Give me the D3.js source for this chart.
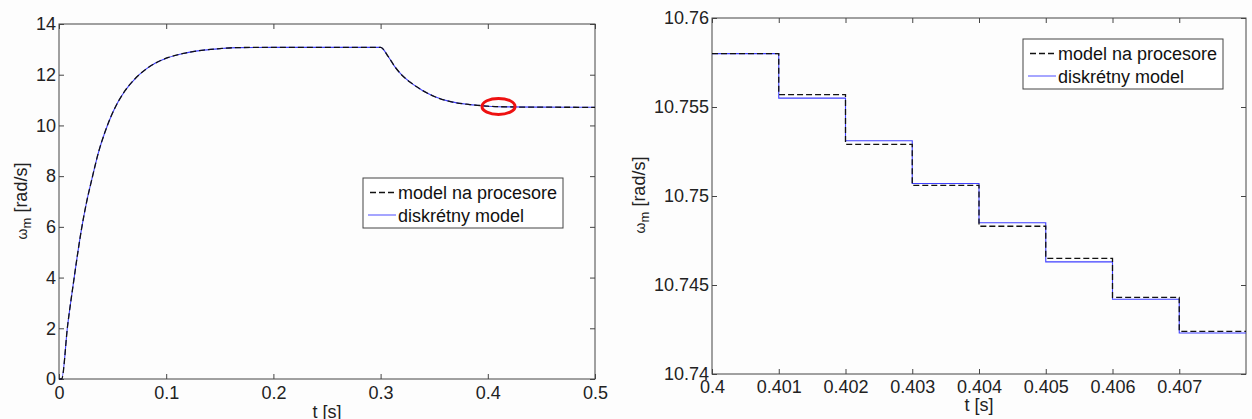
<!DOCTYPE html>
<html><head><meta charset="utf-8">
<script src="https://cdn.jsdelivr.net/npm/d3@7"></script>
<style>
html,body{margin:0;padding:0;background:#fdfdfd;}
svg{display:block;font-family:Arial,"Liberation Sans",sans-serif;}
</style></head>
<body>
<svg id="c" width="1252" height="419"></svg>
<script>
// ---------- data ----------
// Left chart: full response (t in s, omega_m in rad/s)
const leftT = [0, 0.0025, 0.0081, 0.0134, 0.0165, 0.0211, 0.0258, 0.0305, 0.0367, 0.0429, 0.0491, 0.0554, 0.0616, 0.0709, 0.0802, 0.0896, 0.102, 0.116, 0.135, 0.15, 0.166, 0.2, 0.25, 0.3, 0.3072, 0.3134, 0.3197, 0.329, 0.3383, 0.3507, 0.3663, 0.3818, 0.3943, 0.4, 0.42, 0.45, 0.5];
const leftProc = [0, 0, 2.13, 3.77, 4.69, 5.94, 6.99, 7.85, 8.92, 9.74, 10.41, 10.95, 11.37, 11.84, 12.19, 12.45, 12.68, 12.84, 12.97, 13.03, 13.07, 13.08, 13.08, 13.08, 12.71, 12.31, 11.99, 11.66, 11.40, 11.13, 10.93, 10.83, 10.78, 10.758, 10.73, 10.72, 10.715];
const leftDisc = [0, 0, 2.13, 3.77, 4.69, 5.94, 6.99, 7.85, 8.92, 9.74, 10.41, 10.95, 11.37, 11.84, 12.19, 12.45, 12.68, 12.84, 12.97, 13.03, 13.07, 13.08, 13.08, 13.08, 12.71, 12.31, 11.99, 11.66, 11.40, 11.13, 10.93, 10.83, 10.78, 10.758, 10.73, 10.72, 10.715];
const leftXTicks = [0, 0.1, 0.2, 0.3, 0.4, 0.5];
const leftXTickLabels = ["0", "0.1", "0.2", "0.3", "0.4", "0.5"];
const leftYTicks = [0, 2, 4, 6, 8, 10, 12, 14];
const leftYTickLabels = ["0", "2", "4", "6", "8", "10", "12", "14"];
const markT = 0.41, markV = 10.75;

// Right chart: zoomed step response
const rightT = [0.400, 0.401, 0.402, 0.403, 0.404, 0.405, 0.406, 0.407, 0.408];
const rightProc = [10.7580, 10.7557, 10.7529, 10.7506, 10.7483, 10.7465, 10.7443, 10.7424, 10.7424];
const rightDisc = [10.7580, 10.7555, 10.7531, 10.7507, 10.7485, 10.7463, 10.7442, 10.7423, 10.7423];
const rightXTicks = [0.400, 0.401, 0.402, 0.403, 0.404, 0.405, 0.406, 0.407];
const rightXTickLabels = ["0.4", "0.401", "0.402", "0.403", "0.404", "0.405", "0.406", "0.407"];
const rightYTicks = [10.74, 10.745, 10.75, 10.755, 10.76];
const rightYTickLabels = ["10.74", "10.745", "10.75", "10.755", "10.76"];

const seriesNames = ["model na procesore", "diskrétny model"];

// ---------- drawing ----------
const svg = d3.select("#c");
const AX = "#444", BLUE = "#3f3fff", FS = 18;

function panel(o) {
  const g = svg.append("g");
  const x = d3.scaleLinear().domain(o.xd).range([o.left, o.right]);
  const y = d3.scaleLinear().domain(o.yd).range([o.bottom, o.top]);
  const fmtX = d => o.xl[o.xt.indexOf(d)];
  const fmtY = d => o.yl[o.yt.indexOf(d)];

  const styleAxis = sel => {
    sel.select(".domain").remove();
    sel.selectAll(".tick line").attr("stroke", AX);
    sel.selectAll("text").attr("fill", "#222").style("font-size", FS + "px").style("font-family", "Arial, 'Liberation Sans', sans-serif");
  };
  g.append("g").attr("transform", `translate(0,${o.bottom})`)
    .call(d3.axisBottom(x).tickValues(o.xt).tickFormat(fmtX).tickSizeInner(-5).tickSizeOuter(0).tickPadding(o.xpad)).call(styleAxis);
  g.append("g").attr("transform", `translate(0,${o.top})`)
    .call(d3.axisTop(x).tickValues(o.xt).tickFormat("").tickSizeInner(-5).tickSizeOuter(0)).call(styleAxis);
  g.append("g").attr("transform", `translate(${o.left},0)`)
    .call(d3.axisLeft(y).tickValues(o.yt).tickFormat(fmtY).tickSizeInner(-5).tickSizeOuter(0).tickPadding(3)).call(styleAxis);
  g.append("g").attr("transform", `translate(${o.right},0)`)
    .call(d3.axisRight(y).tickValues(o.yt).tickFormat("").tickSizeInner(-5).tickSizeOuter(0)).call(styleAxis);

  g.append("rect").attr("x", o.left).attr("y", o.top).attr("width", o.right - o.left).attr("height", o.bottom - o.top)
    .attr("fill", "none").attr("stroke", AX).attr("stroke-width", 1);

  const line = d3.line().x(d => x(d[0])).y(d => y(d[1])).curve(o.curve);
  g.append("path").datum(o.t.map((t, i) => [t, o.disc[i]])).attr("d", line)
    .attr("fill", "none").attr("stroke", BLUE).attr("stroke-width", 1.1);
  g.append("path").datum(o.t.map((t, i) => [t, o.proc[i]])).attr("d", line)
    .attr("fill", "none").attr("stroke", "#111").attr("stroke-width", 1.3).attr("stroke-dasharray", "6,3");

  // axis labels
  g.append("text").attr("x", (o.left + o.right) / 2).attr("y", o.xlabY).attr("text-anchor", "middle")
    .style("font-size", FS + "px").attr("fill", "#222").text("t [s]");
  const yl = g.append("text").attr("transform", `translate(${o.ylabX},${o.ylabY}) rotate(-90)`)
    .attr("text-anchor", "middle").style("font-size", FS + "px").attr("fill", "#222");
  yl.append("tspan").style("font-size", "14px").text("ω");
  yl.append("tspan").style("font-size", "13px").attr("dy", 4).text("m");
  yl.append("tspan").attr("dy", -4).text(" [rad/s]");

  // legend
  const lg = g.append("g").attr("transform", `translate(${o.legX},${o.legY})`);
  lg.append("rect").attr("width", 200).attr("height", 50).attr("fill", "#fff").attr("stroke", AX);
  lg.append("line").attr("x1", 7).attr("x2", 34).attr("y1", 14.5).attr("y2", 14.5)
    .attr("stroke", "#111").attr("stroke-width", 1.3).attr("stroke-dasharray", "6,3");
  lg.append("line").attr("x1", 5).attr("x2", 33).attr("y1", 37).attr("y2", 37)
    .attr("stroke", "#6a6aff").attr("stroke-width", 1.2);
  lg.append("text").attr("x", 35).attr("y", 21).style("font-size", FS + "px").attr("fill", "#111").text(seriesNames[0]);
  lg.append("text").attr("x", 35).attr("y", 43.5).style("font-size", FS + "px").attr("fill", "#111").text(seriesNames[1]);
  return {g, x, y};
}

const L = panel({
  left: 59, right: 595, top: 24, bottom: 379,
  xd: [0, 0.5], yd: [0, 14],
  xt: leftXTicks, xl: leftXTickLabels, yt: leftYTicks, yl: leftYTickLabels,
  t: leftT, proc: leftProc, disc: leftDisc, curve: d3.curveMonotoneX,
  xpad: 7, xlabY: 418, ylabX: 27, ylabY: 201, legX: 363, legY: 178
});
L.g.append("ellipse").attr("cx", L.x(markT)).attr("cy", L.y(markV)).attr("rx", 16.5).attr("ry", 8)
  .attr("fill", "none").attr("stroke", "#ee1111").attr("stroke-width", 3);

panel({
  left: 712, right: 1246, top: 18, bottom: 374,
  xd: [0.400, 0.408], yd: [10.74, 10.76],
  xt: rightXTicks, xl: rightXTickLabels, yt: rightYTicks, yl: rightYTickLabels,
  t: rightT, proc: rightProc, disc: rightDisc, curve: d3.curveStepAfter,
  xpad: 6, xlabY: 411, ylabX: 645, ylabY: 195, legX: 1023, legY: 39
});
</script>
</body></html>
